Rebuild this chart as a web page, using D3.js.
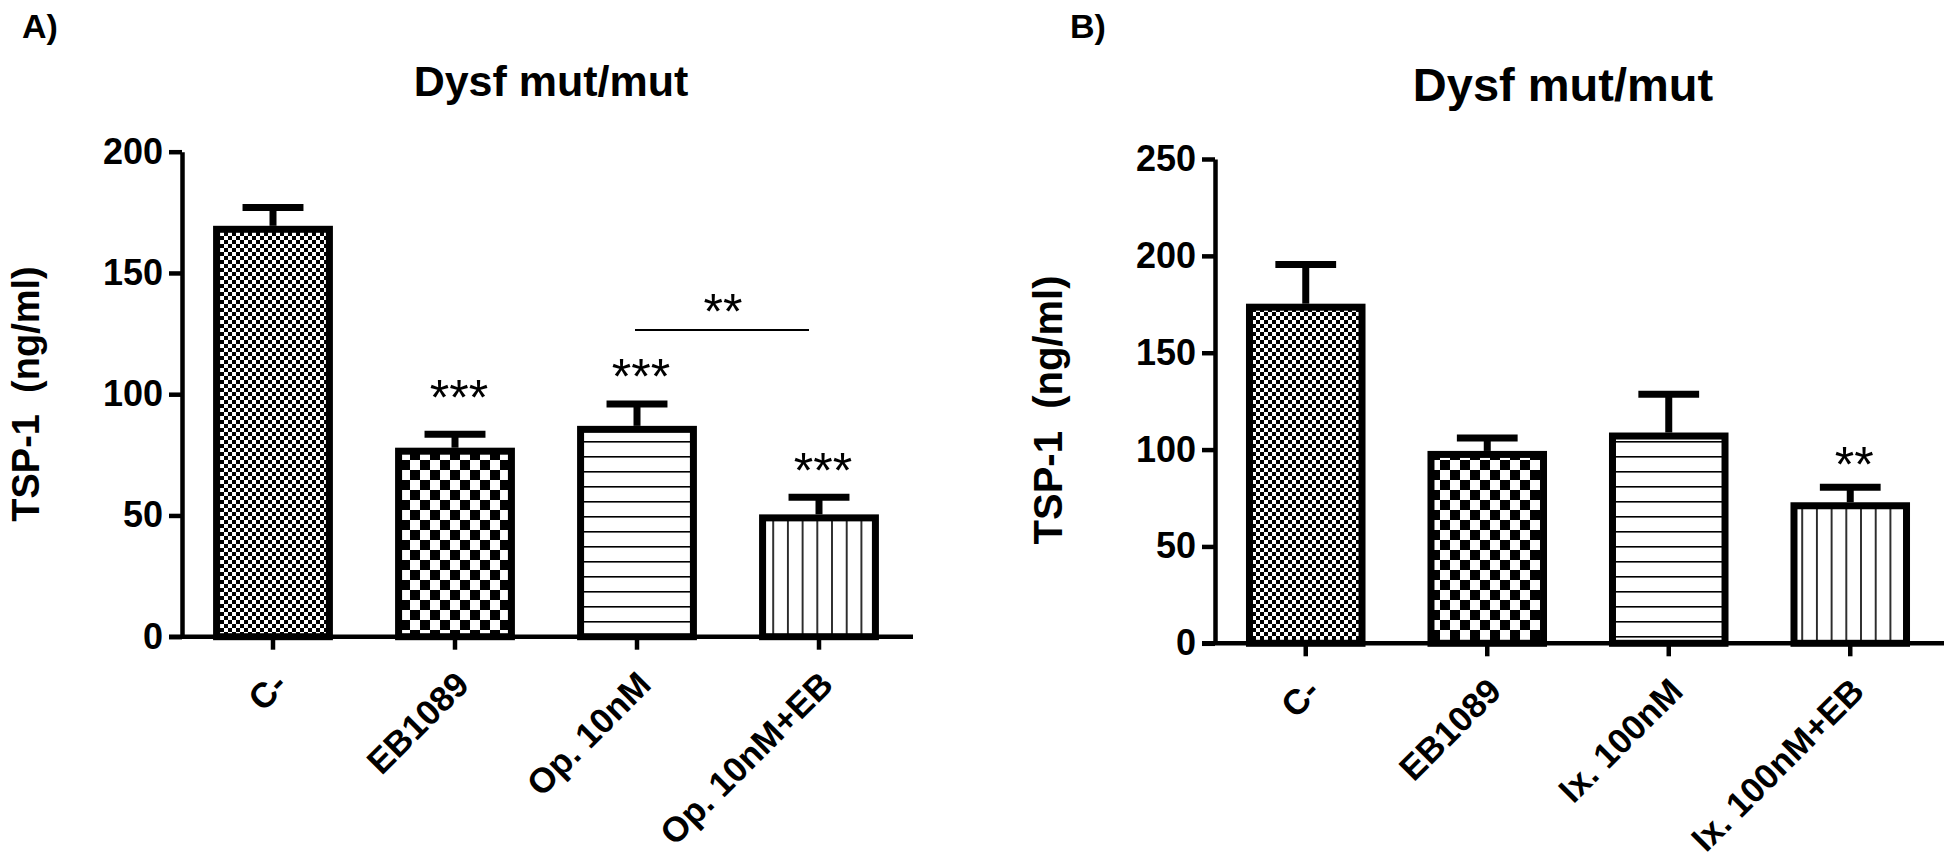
<!DOCTYPE html>
<html>
<head>
<meta charset="utf-8">
<script src="https://cdn.jsdelivr.net/npm/d3@7"></script>
<style>
  html, body { margin: 0; padding: 0; background: #fff; }
  svg { display: block; font-family: "Liberation Sans", Arial, sans-serif; }
</style>
</head>
<body>
<svg id="chart" width="1946" height="858"></svg>
<script>
// ---- data ----
const catsA = ["C-", "EB1089", "Op. 10nM", "Op. 10nM+EB"];
const meanA = [168, 76.5, 85.5, 49];
const errA = [177, 83.5, 96, 57.5];      // top of the SEM bar
const starsA = ["", "***", "***", "***"];
const starLevelA = [0, 100.5, 109.5, 70.5];
const ticksA = [0, 50, 100, 150, 200];

const catsB = ["C-", "EB1089", "Ix. 100nM", "Ix. 100nM+EB"];
const meanB = [173.5, 97.5, 107, 71];
const errB = [195.5, 106, 128.5, 80.5];
const starsB = ["", "", "", "**"];
const starLevelB = [0, 0, 0, 95];
const ticksB = [0, 50, 100, 150, 200, 250];

// bracket between Op. 10nM and Op. 10nM+EB
const bracketA = { from: "Op. 10nM", to: "Op. 10nM+EB", level: 126.5, label: "**", labelLevel: 136 };

const fills = ["fineCheck", "bigCheck", "hLines", "vLines"];

const svg = d3.select("#chart");

// ---- fill patterns (Prism style) ----
const defs = svg.append("defs");

let p = defs.append("pattern").attr("id", "fineCheck")
    .attr("patternUnits", "userSpaceOnUse").attr("width", 8).attr("height", 8);
p.append("rect").attr("width", 8).attr("height", 8).attr("fill", "#fff");
p.append("rect").attr("width", 4).attr("height", 4).attr("fill", "#000");
p.append("rect").attr("x", 4).attr("y", 4).attr("width", 4).attr("height", 4).attr("fill", "#000");

p = defs.append("pattern").attr("id", "bigCheck")
    .attr("patternUnits", "userSpaceOnUse").attr("width", 20).attr("height", 20);
p.append("rect").attr("width", 20).attr("height", 20).attr("fill", "#fff");
p.append("rect").attr("width", 10).attr("height", 10).attr("fill", "#000");
p.append("rect").attr("x", 10).attr("y", 10).attr("width", 10).attr("height", 10).attr("fill", "#000");

p = defs.append("pattern").attr("id", "hLines")
    .attr("patternUnits", "userSpaceOnUse").attr("width", 15).attr("height", 15);
p.append("rect").attr("width", 15).attr("height", 15).attr("fill", "#fff");
p.append("rect").attr("y", 6).attr("width", 15).attr("height", 1.6).attr("fill", "#000");

p = defs.append("pattern").attr("id", "vLines")
    .attr("patternUnits", "userSpaceOnUse").attr("width", 14.7).attr("height", 15);
p.append("rect").attr("width", 14.7).attr("height", 15).attr("fill", "#fff");
p.append("rect").attr("x", 8).attr("width", 1.6).attr("height", 15).attr("fill", "#000");

// ---- one panel ----
function drawPanel(opt) {
    const g = svg.append("g");

    const x = d3.scaleBand()
        .domain(opt.cats)
        .range([opt.x0, opt.x1])
        .paddingInner(0.38)
        .paddingOuter(0.19);

    const y = d3.scaleLinear()
        .domain([0, opt.yMax])
        .range([opt.y0, opt.y1]);

    // panel letter and title
    g.append("text")
        .attr("x", opt.letterX).attr("y", 38)
        .attr("font-size", 34).attr("font-weight", "bold")
        .text(opt.letter);

    g.append("text")
        .attr("x", opt.titleX).attr("y", opt.titleY)
        .attr("text-anchor", "middle")
        .attr("font-size", opt.titleSize).attr("font-weight", "bold")
        .text("Dysf mut/mut");

    // y axis title
    g.append("text")
        .attr("transform", `translate(${opt.yTitleX},${opt.yTitleY}) rotate(-90)`)
        .attr("text-anchor", "middle")
        .attr("font-size", opt.yTitleSize).attr("font-weight", "bold")
        .attr("xml:space", "preserve")
        .text("TSP-1  (ng/ml)");

    // bars
    g.selectAll("rect.bar")
        .data(opt.cats)
        .join("rect")
        .attr("class", "bar")
        .attr("x", d => x(d))
        .attr("y", (d, i) => y(opt.mean[i]))
        .attr("width", x.bandwidth())
        .attr("height", (d, i) => y(0) - y(opt.mean[i]))
        .attr("fill", (d, i) => `url(#${fills[i]})`)
        .attr("stroke", "#000")
        .attr("stroke-width", 7);

    // error bars (upper only)
    const cx = d => x(d) + x.bandwidth() / 2;
    const capHalf = x.bandwidth() * 0.27;
    g.selectAll("line.stem")
        .data(opt.cats)
        .join("line")
        .attr("x1", cx).attr("x2", cx)
        .attr("y1", (d, i) => y(opt.mean[i]) - 3.5)
        .attr("y2", (d, i) => y(opt.err[i]))
        .attr("stroke", "#000").attr("stroke-width", 7);
    g.selectAll("line.cap")
        .data(opt.cats)
        .join("line")
        .attr("x1", d => cx(d) - capHalf).attr("x2", d => cx(d) + capHalf)
        .attr("y1", (d, i) => y(opt.err[i]))
        .attr("y2", (d, i) => y(opt.err[i]))
        .attr("stroke", "#000").attr("stroke-width", 7);

    // significance stars
    const starSize = 50;
    g.selectAll("text.star")
        .data(opt.cats)
        .join("text")
        .attr("x", d => cx(d) + 4)
        .attr("y", (d, i) => y(opt.starLevel[i]) + starSize * 0.45)
        .attr("text-anchor", "middle")
        .attr("font-size", starSize)
        .text((d, i) => opt.stars[i]);

    if (opt.bracket) {
        const b = opt.bracket;
        g.append("line")
            .attr("x1", cx(b.from) - 2).attr("x2", cx(b.to) - 10)
            .attr("y1", y(b.level)).attr("y2", y(b.level))
            .attr("stroke", "#000").attr("stroke-width", 2);
        g.append("text")
            .attr("x", (cx(b.from) + cx(b.to)) / 2 - 5)
            .attr("y", y(b.labelLevel) + starSize * 0.45)
            .attr("text-anchor", "middle")
            .attr("font-size", starSize)
            .text(b.label);
    }

    // y axis
    const yAxis = g.append("g")
        .attr("transform", `translate(${opt.x0},0)`)
        .call(d3.axisLeft(y).tickValues(opt.ticks).tickSize(13).tickSizeOuter(0).tickPadding(6));
    yAxis.select(".domain").attr("stroke-width", 4.5);
    yAxis.selectAll(".tick line").attr("stroke-width", 4.5);
    yAxis.selectAll(".tick text")
        .attr("font-size", 36).attr("font-weight", "bold")
        .attr("font-family", "Liberation Sans, Arial, sans-serif")
        .attr("fill", "#000");

    // x axis
    const xAxis = g.append("g")
        .attr("transform", `translate(0,${opt.y0})`)
        .call(d3.axisBottom(x).tickSize(13).tickSizeOuter(0));
    xAxis.select(".domain").remove();
    xAxis.append("line")
        .attr("x1", opt.x0 - 13).attr("x2", opt.x1 + 3)
        .attr("stroke", "#000").attr("stroke-width", 4.5);
    xAxis.selectAll(".tick line").attr("stroke-width", 4.5);
    xAxis.selectAll(".tick text")
        .attr("font-size", 35).attr("font-weight", "bold")
        .attr("font-family", "Liberation Sans, Arial, sans-serif")
        .attr("fill", "#000")
        .attr("text-anchor", "end")
        .attr("dy", 0)
        .attr("y", 0)
        .attr("transform", "translate(16,50) rotate(-45)");
}

drawPanel({
    cats: catsA, mean: meanA, err: errA, stars: starsA, starLevel: starLevelA,
    ticks: ticksA, yMax: 200, bracket: bracketA,
    x0: 182, x1: 910, y0: 636.7, y1: 151.7,
    letter: "A)", letterX: 22, titleX: 551, titleY: 96, titleSize: 43,
    yTitleX: 39, yTitleY: 394, yTitleSize: 38
});

drawPanel({
    cats: catsB, mean: meanB, err: errB, stars: starsB, starLevel: starLevelB,
    ticks: ticksB, yMax: 250, bracket: null,
    x0: 1215, x1: 1941, y0: 643.3, y1: 159,
    letter: "B)", letterX: 1070, titleX: 1563, titleY: 101, titleSize: 47,
    yTitleX: 1062, yTitleY: 410, yTitleSize: 40
});
</script>
</body>
</html>
